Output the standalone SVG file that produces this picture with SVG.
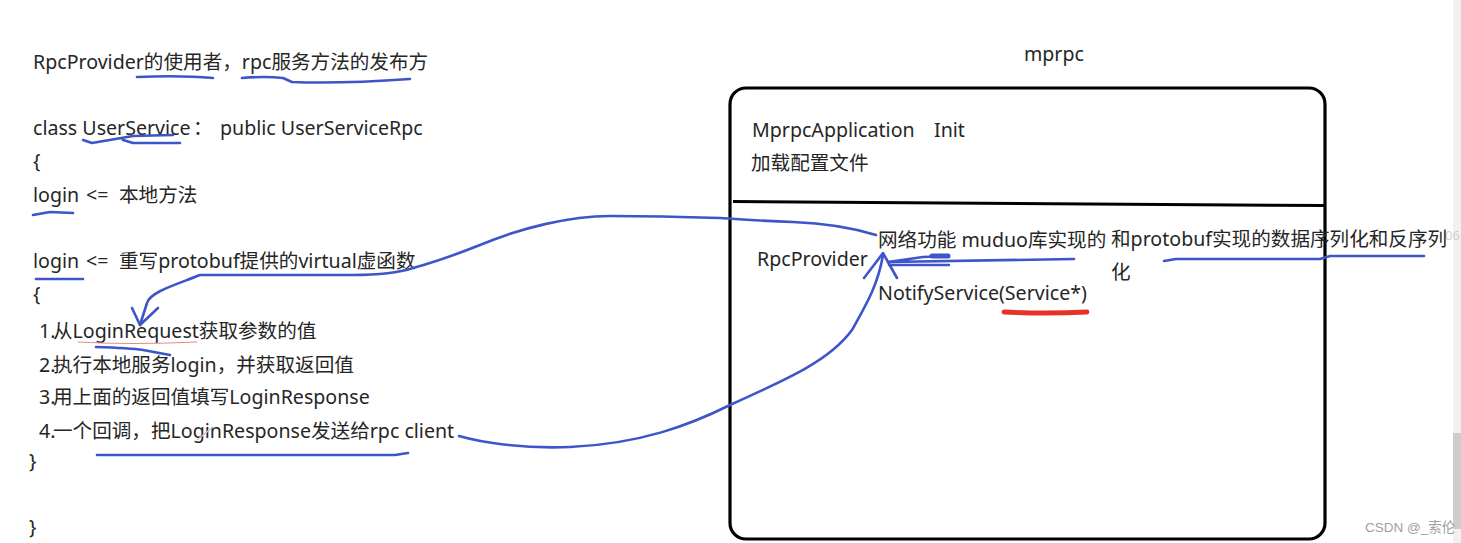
<svg xmlns="http://www.w3.org/2000/svg" width="1461" height="543" viewBox="0 0 1461 543">
<style>
text{font-family:"Noto Sans","Noto Sans CJK SC",sans-serif;font-size:19.6px;fill:#262626}
.b{fill:none;stroke:#3c55c9;stroke-width:2.6;stroke-linecap:round;stroke-linejoin:round}
</style>
<rect width="1461" height="543" fill="#fff"/>
<rect x="1453" y="0" width="8" height="543" fill="#f1f1f1"/>
<rect x="1453" y="433" width="8" height="96" fill="#cdcdcd"/>
<text x="1445" y="240" style="fill:#d0d0d0;font-size:13px">06</text>
<g id="code">
<text x="33" y="69">RpcProvider的使用者，rpc服务方法的发布方</text>
<text x="33" y="135">class UserService<tspan x="193">：</tspan><tspan x="220">public UserServiceRpc</tspan></text>
<text x="33" y="168">{</text>
<text x="33" y="202">login <tspan x="86">&lt;=</tspan><tspan x="119">本地方法</tspan></text>
<text x="33" y="268">login <tspan x="86">&lt;=</tspan><tspan x="119">重写protobuf提供的virtual虚函数</tspan></text>
<text x="33" y="301">{</text>
<text x="39" y="338">1.<tspan x="53">从LoginRequest获取参数的值</tspan></text>
<text x="39" y="372">2.<tspan x="53">执行本地服务login，并获取返回值</tspan></text>
<text x="39" y="404">3.<tspan x="53">用上面的返回值填写LoginResponse</tspan></text>
<text x="39" y="438">4.<tspan x="53">一个回调，把LoginResponse发送给rpc client</tspan></text>
<text x="29" y="468">}</text>
<text x="29" y="534">}</text>
</g>
<g id="mprpc-title"><text x="1024" y="61">mprpc</text></g>
<g id="mprpc-box">
<rect x="730" y="88" width="595" height="451" rx="16" fill="none" stroke="#000" stroke-width="3.2"/>
<path d="M733 201.500L1325 205.500" fill="none" stroke="#000" stroke-width="3"/>
</g>
<g id="application">
<text x="752" y="137">MprpcApplication<tspan x="934">Init</tspan></text>
<text x="751" y="170">加载配置文件</text>
</g>
<g id="provider">
<text x="757" y="266">RpcProvider</text>
<text x="878" y="247">网络功能 muduo库实现的</text>
<text x="1111" y="246">和protobuf实现的数据序列化和反序列</text>
<text x="1111" y="279">化</text>
<text x="878" y="300">NotifyService(Service*)</text>
</g>
<g id="connectors">
<path class="b" d="M137 77Q180 75 213 78"/>
<path class="b" d="M242 78Q265 76 283 78L292 82Q340 84 410 79"/>
<path class="b" d="M83 140L92 143Q115 139 133 136L173 135M123 140L133 143H180"/>
<path class="b" d="M33 215L50 212L73 213"/>
<path class="b" d="M36 279H83"/>
<path class="b" d="M876 235C850 227 820 223 793 222C760 221 735 219 720 218C690 217 650 216 610 216C570 216 520 228 480 245C450 257 435 262 413 268C395 274 375 275 353 275L200 275C175 285 150 292 147 303L140 325"/>
<path class="b" d="M132 308L140 325L158 308"/>
<path class="b" d="M96 347Q130 348 143 350L170 355"/>
<path class="b" d="M97 455L395 455L408 453"/>
<path class="b" d="M459 436C480 442 520 449 570 447C640 444 690 425 730 405C790 378 830 360 852 330C866 305 878 285 883 255"/>
<path class="b" d="M864 278L874 265L883 253L888 262L897 278"/>
<path class="b" d="M888 262L923 257L947 256M888 262L1074 259M889 265H949"/>
<path d="M932 256H948" fill="none" stroke="#3c55c9" stroke-width="5" stroke-linecap="round"/>
<path class="b" d="M1164 261L1176 259H1320L1330 256H1424"/>
</g>
<path d="M1004 312Q1045 314 1087 312" fill="none" stroke="#e8312a" stroke-width="4.800" stroke-linecap="round"/>
<path d="M78 342Q130 345 197 342" fill="none" stroke="#e58a80" stroke-width="1"/>
<path d="M197 440L213 427" fill="none" stroke="#c8c8c8" stroke-width="1.500"/>
<g id="watermark"><text x="1365" y="532" style="font-family:'Liberation Sans','Noto Sans CJK SC',sans-serif;font-size:13.500px;fill:#a0a0a0">CSDN @_索伦</text></g>
</svg>
